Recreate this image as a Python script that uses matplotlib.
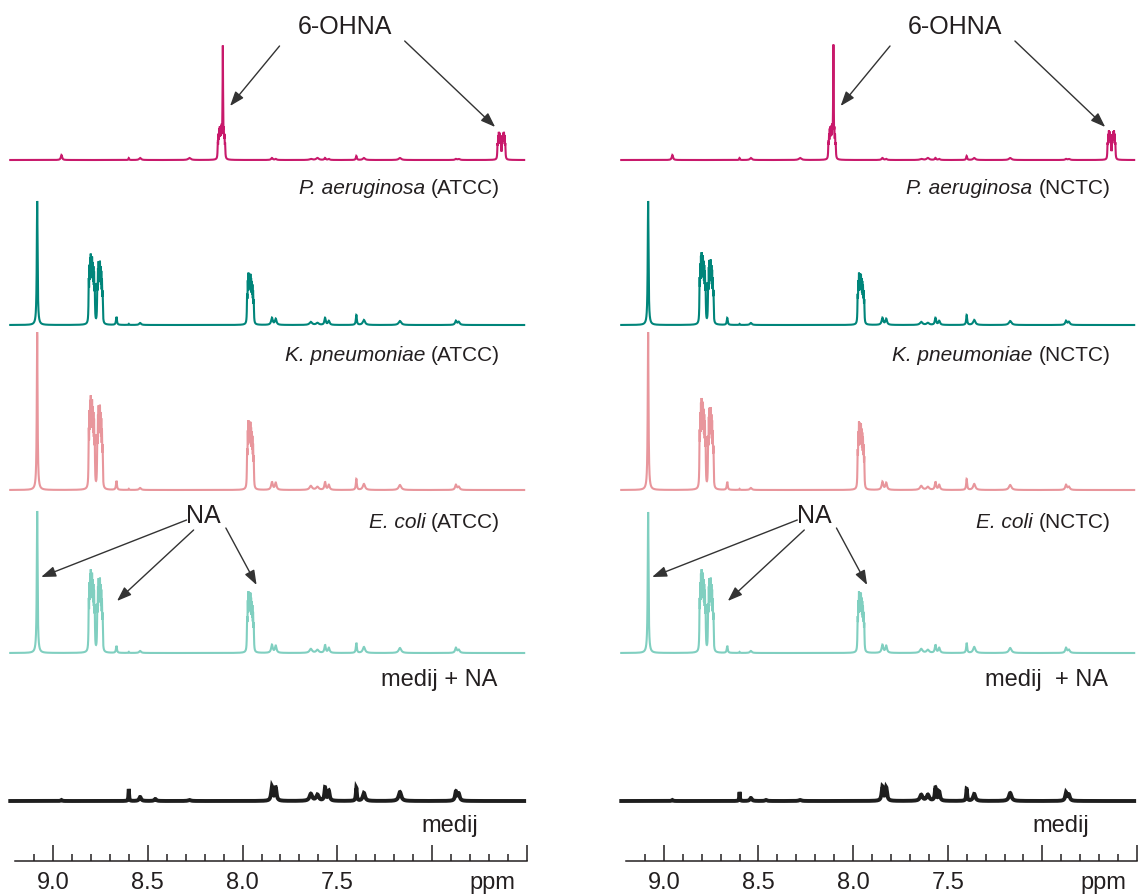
import numpy as np
import matplotlib.pyplot as plt

plt.rcParams['font.family'] = ['Liberation Sans', 'DejaVu Sans']

# --- peak tables ---
# nicotinic acid (NA) lines: ppm, relative intensity, group
# groups: 0 = H2 singlet, 1 = H6/H4 multiplet, 2 = small line, 3 = H5 multiplet
na_ppm = [9.083,
          8.811, 8.8075, 8.804, 8.8005, 8.797, 8.7935, 8.790, 8.7865, 8.783, 8.7795,
          8.766, 8.7625, 8.759, 8.7555, 8.752, 8.7485, 8.745, 8.7415, 8.738,
          8.665,
          7.976, 7.9725, 7.969, 7.9655, 7.962, 7.9585, 7.955, 7.9515, 7.948, 7.9445, 7.941]
na_rel = [1.0,
          0.70, 0.85, 0.95, 1.00, 0.90, 0.95, 0.85, 0.80, 0.75, 0.60,
          0.60, 0.80, 0.90, 0.85, 0.90, 0.80, 0.75, 0.65, 0.50,
          1.0,
          0.60, 0.85, 1.00, 0.95, 0.90, 0.95, 0.85, 0.80, 0.75, 0.65, 0.50]
na_grp = [0,
          1, 1, 1, 1, 1, 1, 1, 1, 1, 1,
          1, 1, 1, 1, 1, 1, 1, 1, 1,
          2,
          3, 3, 3, 3, 3, 3, 3, 3, 3, 3, 3]
na_hw = [0.0025, 0.0014, 0.003, 0.0014]

# medium (medij) lines
bg_ppm = [8.955, 8.600, 8.540, 8.460, 8.280, 7.845, 7.825, 7.640, 7.605,
          7.565, 7.545, 7.400, 7.360, 7.170, 6.875, 6.860]
bg_w = [0.004, 0.002, 0.006, 0.006, 0.008, 0.005, 0.005, 0.008, 0.008,
        0.004, 0.005, 0.003, 0.007, 0.008, 0.005, 0.006]

# 6-OHNA lines: groups 0 = multiplet block, 1 = sharp line, 2 = doublet
oh_ppm = [8.1305, 8.127, 8.1235, 8.120, 8.1165, 8.113, 8.1095, 8.106, 8.1025,
          8.099, 8.0955, 8.092,
          8.104,
          6.6555, 6.652, 6.6485, 6.645, 6.6415, 6.638,
          6.632, 6.6285, 6.625, 6.6215, 6.618, 6.6145]
oh_rel = [0.55, 0.80, 0.95, 1.00, 0.95, 1.00, 0.95, 0.90, 0.95, 0.85, 0.75, 0.50,
          1.0,
          0.60, 0.90, 1.00, 0.95, 0.85, 0.70,
          0.70, 0.85, 0.95, 1.00, 0.90, 0.60]
oh_grp = [0, 0, 0, 0, 0, 0, 0, 0, 0, 0, 0, 0,
          1,
          2, 2, 2, 2, 2, 2,
          2, 2, 2, 2, 2, 2]
oh_hw = [0.0014, 0.0012, 0.0014]

# --- amplitudes per spectrum (ATCC = left panel, NCTC = right panel) ---
pa_oh_atcc = [24, 92, 21]
pa_oh_nctc = [24, 93, 22]
pa_bg = [5, 2, 2, 0, 2, 2, 1, 1, 2, 2, 1, 4, 2, 2, 1, 1]

kp_na_atcc = [124, 52, 8, 39]
kp_na_nctc = [124, 53, 7, 39]
kp_bg = [0, 1, 2, 0, 0, 7, 6, 3, 2, 7, 4, 10, 5, 4, 4, 3]

ec_na_atcc = [158, 69, 9, 52]
ec_na_nctc = [158, 67, 8, 51]
ec_bg = [0, 1, 2, 0, 0, 8, 7, 4, 3, 8, 5, 11, 6, 5, 5, 3]

mn_na_atcc = [142, 61, 7, 46]
mn_na_nctc = [141, 61, 7, 46]
mn_bg = [0, 1, 2, 0, 0, 8, 7, 4, 3, 8, 5, 10, 6, 5, 5, 3]

md_bg_atcc = [1, 12, 4, 2, 1, 14, 13, 7, 6, 13, 10, 13, 8, 9, 9, 7]
md_bg_nctc = [1, 9, 3, 1, 1, 14, 13, 6, 6, 13, 9, 12, 7, 8, 8, 6]

ppm = np.linspace(9.225, 6.515, 16000)


def lines(pos, h, w):
    y = np.zeros_like(ppm)
    for p, a, g in zip(pos, h, w):
        y += a / (1 + ((ppm - p) / g) ** 2)
    return y


def grouped(pos, rel, grp, amp, hw):
    return lines(pos, [r * amp[g] for r, g in zip(rel, grp)], [hw[g] for g in grp])


ink = '#231f20'
cols = ['#c8196b', '#00857a', '#e8969c', '#80cfc0', '#1e1e1e']
base = [701, 536, 371, 208, 60]

W, H = 1140, 895
fig = plt.figure(figsize=(W / 100, H / 100), dpi=100)


def label(ax, x, y, species, strain):
    # upright strain code right-aligned, italic species name in front of it
    t = ax.text(x, y, '(' + strain + ')', ha='right', va='baseline',
                fontsize=15, color=ink)
    ax.annotate(species + ' ', xy=(0, 0), xycoords=t, ha='right', va='bottom',
                fontsize=15, color=ink, fontstyle='italic')


def panel(x0, x1, strain, pa_oh, kp_na, ec_na, mn_na, md_bg, spc):
    ax = fig.add_axes([x0 / W, 33 / H, (x1 - x0) / W, 862 / H])
    ax.set_xlim(9.23, 6.49)
    ax.set_ylim(0, 862)
    specs = [grouped(oh_ppm, oh_rel, oh_grp, pa_oh, oh_hw) + lines(bg_ppm, pa_bg, bg_w),
             grouped(na_ppm, na_rel, na_grp, kp_na, na_hw) + lines(bg_ppm, kp_bg, bg_w),
             grouped(na_ppm, na_rel, na_grp, ec_na, na_hw) + lines(bg_ppm, ec_bg, bg_w),
             grouped(na_ppm, na_rel, na_grp, mn_na, na_hw) + lines(bg_ppm, mn_bg, bg_w),
             lines(bg_ppm, md_bg, bg_w)]
    for s, c, b in zip(specs, cols, base):
        ax.plot(ppm, b + s, color=c, lw=2.8 if c == cols[-1] else 1.5,
                clip_on=False, solid_joinstyle='miter')

    for k in ['top', 'left', 'right']:
        ax.spines[k].set_visible(False)
    ax.spines['bottom'].set_bounds(9.2, 6.5)
    ax.spines['bottom'].set_linewidth(1.1)
    ax.spines['bottom'].set_color(ink)
    ax.set_yticks([])
    ax.set_xticks([9.0, 8.5, 8.0, 7.5, 7.0, 6.5])
    ax.set_xticklabels(['9.0', '8.5', '8.0', '7.5', '', ''])
    ax.set_xticks(np.arange(6.6, 9.15, 0.1), minor=True)
    ax.tick_params(axis='x', which='major', direction='in', length=11.5,
                   width=1.1, pad=7, labelsize=17, colors=ink)
    ax.tick_params(axis='x', which='minor', direction='in', length=5,
                   width=1.1, colors=ink)
    ax.annotate('ppm', xy=(6.68, 0), xycoords=('data', 'axes fraction'),
                xytext=(0, -7), textcoords='offset points', ha='center',
                va='top', fontsize=17, color=ink)

    # sample labels
    label(ax, 6.642, 668, 'P. aeruginosa', strain)
    label(ax, 6.642, 501, 'K. pneumoniae', strain)
    label(ax, 6.642, 334, 'E. coli', strain)
    ax.text(6.655, 182, 'medij ' + spc + '+ NA', ha='right', va='center',
            fontsize=17, color=ink)
    ax.text(6.755, 36, 'medij', ha='right', va='center', fontsize=17, color=ink)

    # annotations
    arr = dict(arrowstyle='-|>,head_length=0.55,head_width=0.2', lw=1.0,
               color='#333333', shrinkA=0, shrinkB=0, mutation_scale=16)
    ax.text(7.46, 835, '6-OHNA', ha='center', va='center', fontsize=18, color=ink)
    ax.annotate('', xy=(8.066, 755), xytext=(7.805, 815), arrowprops=arr)
    ax.annotate('', xy=(6.668, 734), xytext=(7.145, 820), arrowprops=arr)
    ax.text(8.205, 346, 'NA', ha='center', va='center', fontsize=18, color=ink)
    ax.annotate('', xy=(9.062, 284), xytext=(8.295, 341), arrowprops=arr)
    ax.annotate('', xy=(8.662, 260), xytext=(8.258, 331), arrowprops=arr)
    ax.annotate('', xy=(7.926, 276), xytext=(8.088, 333), arrowprops=arr)
    return ax


panel(9.3, 528.9, 'ATCC', pa_oh_atcc, kp_na_atcc, ec_na_atcc, mn_na_atcc,
      md_bg_atcc, '')
panel(620.3, 1138.9, 'NCTC', pa_oh_nctc, kp_na_nctc, ec_na_nctc, mn_na_nctc,
      md_bg_nctc, ' ')

fig.savefig('out.png', dpi=100)
